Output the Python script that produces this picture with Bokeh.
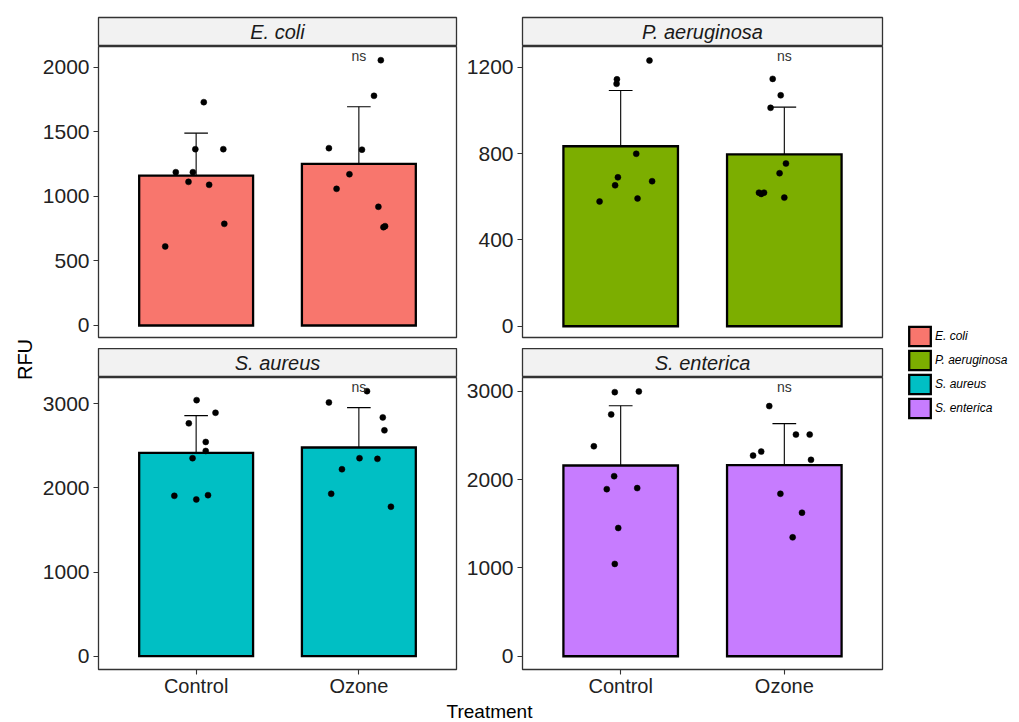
import math
from bokeh.plotting import figure
from bokeh.models import Range1d, FixedTicker, Legend, LegendItem, ColumnDataSource
from bokeh.layouts import row, column
from bokeh.embed import file_html
from bokeh.resources import INLINE
from bokeh.core.properties import value

# ---------------- data ----------------
treatments = ["Control", "Ozone"]
species = ["E. coli", "P. aeruginosa", "S. aureus", "S. enterica"]
colors = ["#F8766D", "#7CAE00", "#00BFC4", "#C77CFF"]

ecoli_mean = [1161, 1252]
ecoli_upper = [1489, 1693]
ecoli_ctrl = [612, 1187, 1112, 1187, 1365, 1729, 1089, 1365, 787]
ecoli_ctrl_jit = [-0.19, -0.125, -0.047, -0.02, -0.005, 0.047, 0.08, 0.167, 0.173]
ecoli_ozone = [1373, 1058, 1171, 1361, 1778, 919, 2054, 761, 769]
ecoli_ozone_jit = [-0.184, -0.137, -0.058, 0.019, 0.093, 0.12, 0.135, 0.151, 0.161]

paer_mean = [834, 796]
paer_upper = [1092, 1015]
paer_ctrl = [578, 653, 1123, 1144, 690, 799, 592, 1231, 672]
paer_ctrl_jit = [-0.129, -0.034, -0.025, -0.023, -0.017, 0.095, 0.103, 0.176, 0.192]
paer_ozone = [619, 613, 619, 1012, 1146, 709, 1070, 596, 754]
paer_ozone_jit = [-0.155, -0.141, -0.124, -0.084, -0.071, -0.029, -0.022, 0.0, 0.01]

saur_mean = [2416, 2480]
saur_upper = [2859, 2954]
saur_ctrl = [1906, 2767, 2353, 1863, 3043, 2546, 2439, 1914, 2893]
saur_ctrl_jit = [-0.134, -0.045, -0.022, 0.001, 0.003, 0.059, 0.059, 0.073, 0.119]
saur_ozone = [3016, 1930, 2222, 2353, 3150, 2345, 2838, 2684, 1776]
saur_ozone_jit = [-0.184, -0.17, -0.104, 0.004, 0.05, 0.114, 0.147, 0.157, 0.197]

sent_mean = [2161, 2165]
sent_upper = [2838, 2635]
sent_ctrl = [2379, 1893, 2740, 2040, 2992, 1453, 1046, 1905, 3000]
sent_ctrl_jit = [-0.164, -0.085, -0.058, -0.04, -0.036, -0.015, -0.036, 0.101, 0.111]
sent_ozone = [2273, 2319, 2834, 1841, 1347, 2511, 1626, 2511, 2225]
sent_ozone_jit = [-0.191, -0.141, -0.092, -0.024, 0.051, 0.071, 0.108, 0.155, 0.163]

ns_label = "ns"
ns_y = [2090, 1254, 3197, 3049]

y_ticks = [[0, 500, 1000, 1500, 2000], [0, 400, 800, 1200],
           [0, 1000, 2000, 3000], [0, 1000, 2000, 3000]]
y_limits = [(-93, 2160), (-52, 1296), (-158, 3312), (-150, 3158)]

x_title = "Treatment"
y_title = "RFU"

FONT = "Liberation Sans"
BORDER = "#333333"

panels = [
    (ecoli_mean, ecoli_upper, ecoli_ctrl, ecoli_ctrl_jit, ecoli_ozone, ecoli_ozone_jit),
    (paer_mean, paer_upper, paer_ctrl, paer_ctrl_jit, paer_ozone, paer_ozone_jit),
    (saur_mean, saur_upper, saur_ctrl, saur_ctrl_jit, saur_ozone, saur_ozone_jit),
    (sent_mean, sent_upper, sent_ctrl, sent_ctrl_jit, sent_ozone, sent_ozone_jit),
]

FRAME_W = 360
LEFT_B = [57, 60]
RIGHT_B = [6, 14]
TOP_FRAME_H = 291
BOT_FRAME_H = 292
TOP_BOTTOM_B = 11
BOT_BOTTOM_B = 30
STRIP_H = 29


def bare(p):
    p.xgrid.visible = False
    p.ygrid.visible = False
    p.border_fill_color = "white"


def make_strip(i, col, top_border):
    p = figure(width=LEFT_B[col] + FRAME_W + RIGHT_B[col], height=STRIP_H + top_border,
               x_range=Range1d(0, 1), y_range=Range1d(0, 1),
               x_axis_location=None, y_axis_location=None,
               output_backend="svg", toolbar_location=None, title=None,
               min_border=0, min_border_left=LEFT_B[col], min_border_right=RIGHT_B[col],
               min_border_top=top_border, min_border_bottom=0)
    bare(p)
    p.background_fill_color = "#F2F2F2"
    p.outline_line_color = BORDER
    p.outline_line_width = 1.3
    src = ColumnDataSource(dict(x=[0.5], y=[0.5], t=[species[i]]))
    p.text(x="x", y="y", text="t", source=src, text_align="center", text_baseline="middle",
           text_font=value(FONT), text_font_style="italic", text_font_size="20px",
           text_color="#1a1a1a")
    return p


def make_panel(i, col, bottom_row):
    mean, upper, ctrl, cj, oz, oj = panels[i]
    fh = BOT_FRAME_H if bottom_row else TOP_FRAME_H
    bb = BOT_BOTTOM_B if bottom_row else TOP_BOTTOM_B
    kw = {} if bottom_row else dict(x_axis_location=None)
    p = figure(width=LEFT_B[col] + FRAME_W + RIGHT_B[col], height=fh + bb,
               x_range=Range1d(0.4, 2.6), y_range=Range1d(*y_limits[i]),
               output_backend="svg", toolbar_location=None, title=None,
               min_border=0, min_border_left=LEFT_B[col], min_border_right=RIGHT_B[col],
               min_border_top=0, min_border_bottom=bb, **kw)
    bare(p)
    p.background_fill_color = "white"
    p.outline_line_color = BORDER
    p.outline_line_width = 1.3

    xs = [k + 1 for k in range(len(treatments))]
    p.vbar(x=xs, top=mean, bottom=0, width=0.7, fill_color=colors[i],
           line_color="black", line_width=2.3, line_join="miter")
    # error bars (upper only)
    p.segment(x0=xs, y0=mean, x1=xs, y1=upper, line_color="black", line_width=1.1)
    p.segment(x0=[x - 0.0725 for x in xs], y0=upper, x1=[x + 0.0725 for x in xs], y1=upper,
              line_color="black", line_width=1.1)
    # jittered points
    px = [1 + j for j in cj] + [2 + j for j in oj]
    py = list(ctrl) + list(oz)
    p.scatter(x=px, y=py, size=6, fill_color="black", line_color="black", line_width=0.5)
    # ns label
    p.text(x=[2], y=[ns_y[i]], text=[ns_label], text_align="center", text_baseline="middle",
           text_font=value(FONT), text_font_size="14px", text_color="#333333")

    yax = p.yaxis[0]
    yax.ticker = FixedTicker(ticks=y_ticks[i])
    yax.minor_tick_line_color = None
    yax.axis_line_color = None
    yax.major_tick_in = 0
    yax.major_tick_out = 5
    yax.major_tick_line_color = BORDER
    yax.major_tick_line_width = 1.1
    yax.major_label_standoff = 4
    yax.major_label_text_font = FONT
    yax.major_label_text_font_size = "21px"
    yax.major_label_text_color = "#222222"
    if bottom_row:
        xax = p.xaxis[0]
        xax.ticker = FixedTicker(ticks=xs)
        xax.major_label_overrides = {x: t for x, t in zip(xs, treatments)}
        xax.minor_tick_line_color = None
        xax.axis_line_color = None
        xax.major_tick_in = 0
        xax.major_tick_out = 5
        xax.major_tick_line_color = BORDER
        xax.major_tick_line_width = 1.1
        xax.major_label_standoff = 0
        xax.major_label_text_font = FONT
        xax.major_label_text_font_size = "20px"
        xax.major_label_text_color = "#222222"
    return p


TOTAL_H = 722
RFU_W = 39
LEG_W = 1019 - RFU_W - (LEFT_B[0] + FRAME_W + RIGHT_B[0]) - (LEFT_B[1] + FRAME_W + RIGHT_B[1])

# y-axis title
rfu = figure(width=RFU_W, height=TOTAL_H, x_range=Range1d(0, RFU_W), y_range=Range1d(0, TOTAL_H),
             x_axis_location=None, y_axis_location=None, output_backend="svg",
             toolbar_location=None, title=None, min_border=0)
bare(rfu)
rfu.outline_line_color = None
rfu.text(x=[24], y=[TOTAL_H - 359], text=[y_title], angle=math.pi / 2, text_align="center",
         text_baseline="middle", text_font=value(FONT), text_font_size="20px", text_color="black")

strip1 = make_strip(0, 0, 17)
strip2 = make_strip(1, 1, 17)
strip3 = make_strip(2, 0, 0)
strip4 = make_strip(3, 1, 0)
p1 = make_panel(0, 0, False)
p2 = make_panel(1, 1, False)
p3 = make_panel(2, 0, True)
p4 = make_panel(3, 1, True)

TW = (LEFT_B[0] + FRAME_W + RIGHT_B[0]) + (LEFT_B[1] + FRAME_W + RIGHT_B[1])
TH = TOTAL_H - (17 + STRIP_H + TOP_FRAME_H + TOP_BOTTOM_B) - (STRIP_H + BOT_FRAME_H + BOT_BOTTOM_B)
treat = figure(width=TW, height=TH, x_range=Range1d(0, TW), y_range=Range1d(0, TH),
               x_axis_location=None, y_axis_location=None, output_backend="svg",
               toolbar_location=None, title=None, min_border=0)
bare(treat)
treat.outline_line_color = None
treat.text(x=[489 - RFU_W], y=[TH / 2], text=[x_title], text_align="center", text_baseline="middle",
           text_font=value(FONT), text_font_size="19px", text_color="black")

# legend
leg = figure(width=LEG_W, height=TOTAL_H, x_range=Range1d(0, 1), y_range=Range1d(0, 1),
             x_axis_location=None, y_axis_location=None, output_backend="svg",
             toolbar_location=None, title=None, min_border=0)
bare(leg)
leg.outline_line_color = None
items = []
for s, c in zip(species, colors):
    # swatch-only renderer: hidden on the canvas, used only for its legend key
    src = ColumnDataSource(dict(x=[0.5], top=[0.5]))
    r = leg.vbar(x="x", top="top", source=src, width=0.1, fill_color=c, line_color="black",
                 line_width=2.3, line_join="miter", visible=False)
    items.append(LegendItem(label=s, renderers=[r]))
legend = Legend(items=items, location=(10, 302), orientation="vertical",
                glyph_width=27, glyph_height=24, label_height=24, spacing=0, padding=0,
                margin=0, label_standoff=2, border_line_color=None, background_fill_alpha=0,
                inactive_fill_alpha=0,
                label_text_font=FONT, label_text_font_style="italic",
                label_text_font_size="12px", label_text_color="black")
leg.add_layout(legend, "center")

layout = row(
    rfu,
    column(
        row(column(strip1, p1), column(strip2, p2)),
        row(column(strip3, p3), column(strip4, p4)),
        treat,
    ),
    leg,
)

open("out.html", "w").write(file_html(layout, INLINE))
